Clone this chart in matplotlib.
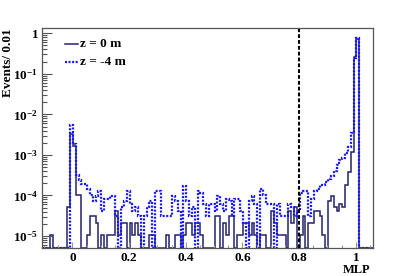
import numpy as np
import matplotlib
matplotlib.use('Agg')
import matplotlib.pyplot as plt
from matplotlib.ticker import FixedLocator, NullFormatter

# ---------------- data ----------------
x_min = -0.108          # lower edge of first bin
bin_width = 0.01
unit = 1.05e-5          # height of one event (Events/0.01, normalised)

counts_z0 = [
    0, 0, 0, 1, 0, 0, 0, 0, 0, 5,
    305, 160, 10, 10, 0, 0, 1, 3, 3, 2,
    0, 1, 0, 1, 1, 1, 4, 1, 2, 2,
    0, 2, 1, 2, 1, 0, 0, 0, 1, 1,
    0, 0, 0, 0, 1, 0, 0, 1, 1, 0,
    1, 2, 2, 1, 2, 2, 1, 0, 0, 0,
    0, 3, 3, 0, 2, 1, 3, 3, 0, 1,
    1, 2, 2, 1, 2, 1, 0, 1, 1, 0,
    0, 4, 2, 1, 1, 1, 0, 4, 2, 5,
    0, 1, 3, 0, 2, 2, 4, 4, 3, 1,
    0, 7, 9, 5, 4, 6, 5, 17, 37, 110,
    24800, 68600, 0, 0, 0, 0, 0,
]

counts_z4 = [
    0, 0, 0, 0, 0, 0, 0, 0, 0, 0,
    525, 180, 30, 23, 18, 18, 14, 10, 7, 9,
    12, 4, 8, 8, 9, 9, 3, 0, 5, 7,
    12, 6, 4, 5, 3, 0, 3, 5, 7, 0,
    12, 12, 3, 3, 3, 3, 9, 7, 4, 0,
    16, 7, 3, 5, 0, 12, 11, 6, 3, 6,
    6, 4, 9, 6, 4, 8, 7, 3, 8, 8,
    4, 2, 0, 7, 9, 6, 0, 14, 10, 6,
    6, 6, 0, 6, 3, 3, 3, 6, 5, 3,
    4, 11, 12, 12, 3, 8, 12, 14, 17, 17,
    20, 24, 28, 38, 55, 70, 80, 105, 150, 330,
    23800, 74300, 0, 0, 0, 0, 0,
]

series_labels = ['z = 0 m', 'z = -4 m']
xticks = [0.0, 0.2, 0.4, 0.6, 0.8, 1.0]
xticklabels = ['0', '0.2', '0.4', '0.6', '0.8', '1']
yticks = [1e-5, 1e-4, 1e-3, 1e-2, 1e-1, 1.0]
yticklabels = [r'$10^{-5}$', r'$10^{-4}$', r'$10^{-3}$', r'$10^{-2}$', r'$10^{-1}$', '1']
cut_value = 0.8
ylim = (5.06e-6, 1.35)

# ---------------- style ----------------
plt.rcParams['font.family'] = ['Liberation Serif', 'DejaVu Serif']
plt.rcParams['font.weight'] = 'bold'
plt.rcParams['mathtext.fontset'] = 'custom'
plt.rcParams['mathtext.rm'] = 'Liberation Serif:bold'
plt.rcParams['mathtext.it'] = 'Liberation Serif:bold:italic'
plt.rcParams['mathtext.bf'] = 'Liberation Serif:bold'
plt.rcParams['mathtext.default'] = 'rm'

c_z0 = '#23236e'
c_z4 = '#1414ff'

fig = plt.figure(figsize=(4.15, 2.76), dpi=100)
ax = fig.add_axes([0.1005, 0.1014, 0.7993, 0.7972])

n = len(counts_z0)
edges = x_min + bin_width * np.arange(n + 1)
v0 = np.maximum(np.array(counts_z0) * unit, ylim[0])
v4 = np.maximum(np.array(counts_z4) * unit, ylim[0])

ax.stairs(v0, edges, baseline=None, color=c_z0, lw=1.1)
ax.stairs(v4, edges, baseline=None, color=c_z4, lw=1.6, linestyle=(0, (0.9, 0.7)))

ax.axvline(cut_value, color='black', lw=1.5, linestyle=(0, (1.8, 1.0)))

ax.set_yscale('log')
ax.set_xlim(edges[0], edges[-1])
ax.set_ylim(*ylim)

for s in ax.spines.values():
    s.set_color('#555555')
    s.set_linewidth(0.9)

ax.yaxis.set_major_locator(FixedLocator(yticks))
ax.set_yticklabels(yticklabels)
minor_y = [m * 10.0 ** e for e in range(-6, 1) for m in range(2, 10)]
ax.yaxis.set_minor_locator(FixedLocator(minor_y))
ax.yaxis.set_minor_formatter(NullFormatter())

ax.xaxis.set_major_locator(FixedLocator(xticks))
ax.set_xticklabels(xticklabels)
ax.xaxis.set_minor_locator(FixedLocator(np.arange(-0.1, 1.06, 0.05)))

ax.tick_params(axis='y', which='major', direction='in', length=7.5, width=0.8,
               color='#555555', labelsize=9.5, pad=2.5, right=False)
ax.tick_params(axis='y', which='minor', direction='in', length=3.8, width=0.8,
               color='#555555', right=False)
ax.tick_params(axis='x', which='major', direction='in', length=4, width=0.8,
               color='#999999', labelsize=9.5, pad=3, top=False)
ax.tick_params(axis='x', which='minor', direction='in', length=2.2, width=0.8,
               color='#999999', top=False)

# legend (ROOT style, no frame)
ax.plot([0.070, 0.108], [0.927, 0.927], transform=ax.transAxes, color=c_z0, lw=1.1)
ax.plot([0.070, 0.108], [0.845, 0.845], transform=ax.transAxes, color=c_z4, lw=1.6,
        linestyle=(0, (0.9, 0.7)))
ax.text(0.116, 0.927, series_labels[0], transform=ax.transAxes, ha='left', va='center',
        fontsize=9.5, fontweight='bold')
ax.text(0.116, 0.845, series_labels[1], transform=ax.transAxes, ha='left', va='center',
        fontsize=9.5, fontweight='bold')

fig.text(8 / 415, 1 - 28 / 276, 'Events/ 0.01', rotation=90, ha='center', va='top',
         fontsize=9.5, fontweight='bold')
fig.text(370 / 415, 1 - 270 / 276, 'MLP', ha='right', va='center',
         fontsize=9, fontweight='bold')

fig.savefig('out.png', dpi=100)
